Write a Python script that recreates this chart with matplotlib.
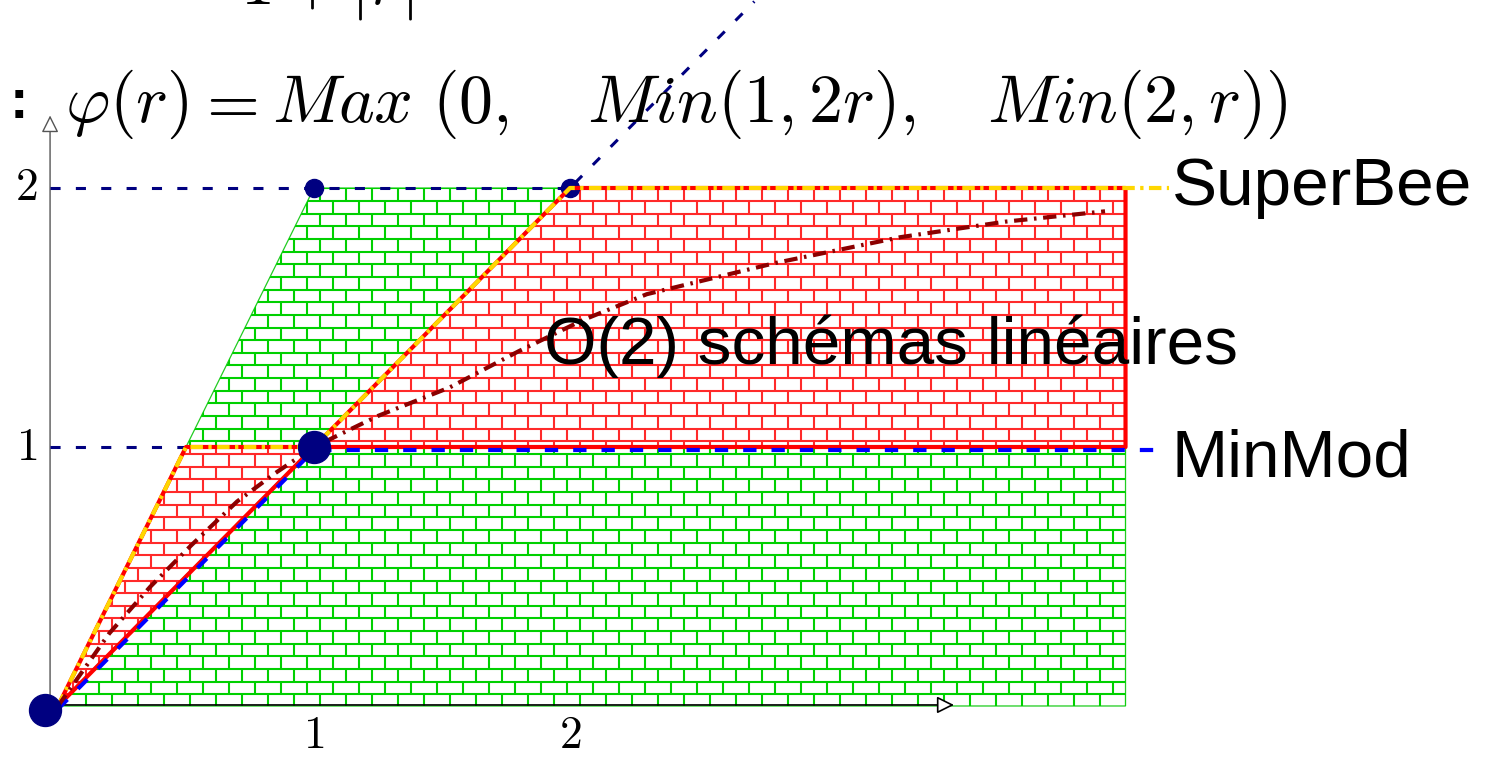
import numpy as np
import matplotlib
matplotlib.use("Agg")
import matplotlib.pyplot as plt
from matplotlib.patches import Polygon
from matplotlib.collections import LineCollection
import matplotlib.transforms as mtransforms

plt.rcParams["mathtext.fontset"] = "cm"

# ---- data ----
tvd_r = [0, 1, 4.17, 4.17]            # green TVD region
tvd_phi = [0, 2, 2, 0]
o2_r = [0, 0.5, 1, 2, 4.17, 4.17, 1]  # red second-order region
o2_phi = [0, 1, 1, 2, 2, 1, 1]
superbee_r = [0, 0.5, 1, 2, 4.34]
superbee_phi = [0, 1, 1, 2, 2]
minmod_r = [0, 1, 4.32]
minmod_phi = [0, 1, 1]
curve_r = [0, 0.2, 0.36, 0.52, 0.70, 0.85, 1.0, 1.25, 1.53, 1.8, 2.05, 2.3, 2.8, 3.29, 3.7, 4.09]
curve_phi = [0, 0.28, 0.46, 0.62, 0.79, 0.90, 1.0, 1.12, 1.23, 1.37, 1.49, 1.59, 1.71, 1.81, 1.87, 1.91]
ref_h_y = [1, 2]          # horizontal dashed guides
ref_h_xend = [1, 2]
diag_r = [0, 2.72]        # phi = r guide
small_dots = [(1, 2), (2, 2)]
big_dots = [(1, 1), (-0.05, -0.015)]
xticks = [1, 2]
yticks = [1, 2]

# formula pieces and their left edges (pixels)
formula_parts = [r"$\varphi(r)$", r"$=$", r"$Max$", r"$(0,$", r"$Min(1,2r),$", r"$Min(2,r))$"]
formula_x = [65, 195, 272, 432, 587, 987]

W, H = 1490, 757
fig = plt.figure(figsize=(W / 100, H / 100), dpi=100)
ax = fig.add_axes([0, 0, 1, 1])
x0px, ux = 58, 256
y0px, uy = 706, 259
ax.set_xlim(-x0px / ux, (W - x0px) / ux)
ax.set_ylim((y0px - H) / uy, y0px / uy)
ax.axis("off")

navy = "#000080"


def bricks(color, poly, z):
    bw, bh = 26 / ux, 12.65 / uy
    segs = []
    for k in np.arange(-1, 2.2 / bh + 2):
        yb = k * bh - 1 / uy
        segs.append([(-0.5, yb), (5, yb)])
        off = (k % 2) * bw / 2
        for xv in np.arange(-0.5 + off, 5, bw):
            segs.append([(xv, yb), (xv, yb + bh)])
    lc = LineCollection(segs, colors=color, linewidths=1.5, zorder=z)
    ax.add_collection(lc)
    lc.set_clip_path(poly)


green_poly = Polygon(np.column_stack([tvd_r, tvd_phi]), closed=True,
                     fc="white", ec="#22cc22", lw=0.9, zorder=1)
ax.add_patch(green_poly)
bricks("#00d000", green_poly, 1.5)

red_poly = Polygon(np.column_stack([o2_r, o2_phi]), closed=True,
                   fc="white", ec="none", zorder=2)
ax.add_patch(red_poly)
bricks("#ff2a2a", red_poly, 2.5)

# axes with open arrow heads
ax.annotate("", xy=(-0.031, 2.28), xytext=(-0.031, 0),
            arrowprops=dict(arrowstyle="-|>", fc="white", ec="#555555", lw=1.0,
                            mutation_scale=26, shrinkA=0, shrinkB=0), zorder=3)
ax.annotate("", xy=(3.5, 0.004), xytext=(-0.031, 0.004),
            arrowprops=dict(arrowstyle="-|>", fc="white", ec="black", lw=1.2,
                            mutation_scale=26, shrinkA=0, shrinkB=0), zorder=3)

# dashed guides
for yv, xe in zip(ref_h_y, ref_h_xend):
    ax.plot([-0.031, xe], [yv, yv], color=navy, lw=2.2, dashes=(3.3, 5.0), zorder=3)
ax.plot(diag_r, diag_r, color=navy, lw=2.2, dashes=(3.3, 5.0), zorder=3)

ax.plot(*zip(*small_dots[1:]), "o", color=navy, ms=13, zorder=3.5)

# red boundary of the second-order region
ax.plot(o2_r + [o2_r[0]], o2_phi + [o2_phi[0]], color="red", lw=3.0, zorder=4)

# minmod, slightly offset below the red border
off = mtransforms.offset_copy(ax.transData, fig=fig, x=0, y=-3, units="dots")
ax.plot(minmod_r, minmod_phi, color="#0000ff", lw=3.0, dashes=(3.2, 3.6),
        transform=off, zorder=5)

# superbee
ax.plot(superbee_r, superbee_phi, color="#ffd700", lw=3.0,
        dashes=(3.0, 1.3, 0.8, 1.3), zorder=6)

# linear-scheme curve
ax.plot(curve_r, curve_phi, color="#8b0000", lw=3.0,
        dashes=(3.2, 1.6, 0.6, 1.6), zorder=6)

ax.plot(*zip(*small_dots[:1]), "o", color=navy, ms=13, zorder=7)
for bx, by in big_dots:
    ax.plot(bx, by, "o", color=navy, ms=23, zorder=7)

# tick labels
for xt in xticks:
    ax.text(xt, -0.115, f"${xt}$", fontsize=33, ha="center", va="center", zorder=8)
for yt in yticks:
    ax.text(-0.08, yt, f"${yt}$", fontsize=33, ha="right", va="center", zorder=8)

# labels
lab = dict(family=["Liberation Sans", "DejaVu Sans"], fontsize=48.6, zorder=8)
ax.text(4.35, 2.0, "SuperBee", ha="left", va="center", **lab)
ax.text(4.35, 0.95, "MinMod", ha="left", va="center", **lab)
ax.text(1.9, 1.32, "O(2) schémas linéaires", ha="left", va="baseline", **lab)

# formula
for part, px in zip(formula_parts, formula_x):
    fig.text(px / W, 1 - 122 / H, part, fontsize=49, ha="left", va="baseline")
fig.text(10 / W, 1 - 118 / H, ":", fontsize=40, fontweight="bold",
         family=["Liberation Sans", "DejaVu Sans"], ha="left", va="baseline")
fig.text(240 / W, 1 - 3 / H, r"$1+|r|$", fontsize=49, ha="left", va="baseline")

fig.savefig("out.png", dpi=100)
